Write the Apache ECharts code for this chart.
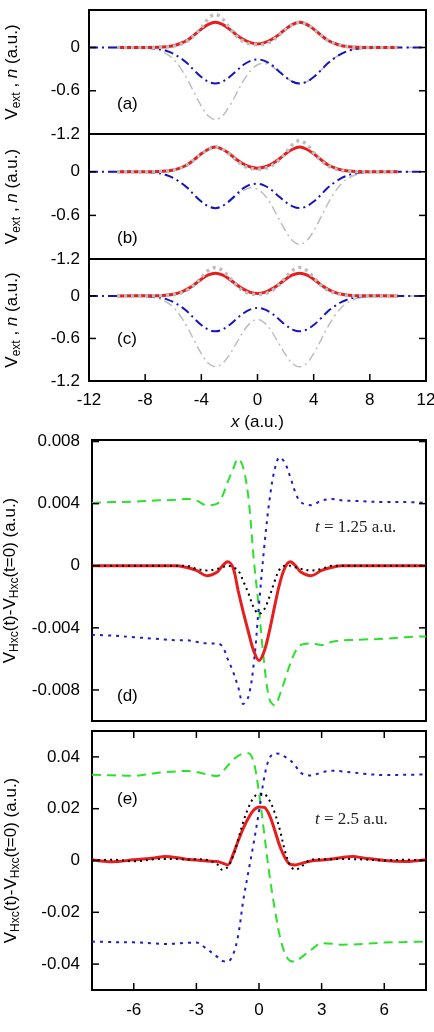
<!DOCTYPE html>
<html>
<head>
<meta charset="utf-8">
<script src="https://cdn.jsdelivr.net/npm/echarts@6/dist/echarts.min.js"></script>
<style>
html, body { margin: 0; padding: 0; background: #fff; }
#main { width: 434px; height: 1032px; }
</style>
</head>
<body>
<div id="main"></div>
<script>
// x grid of the three upper panels
var xTop = [-12, -10, -8, -7, -6.5, -6, -5.5, -5, -4.5, -4, -3.5, -3, -2.5, -2, -1.5, -1, -0.5, 0,
            0.5, 1, 1.5, 2, 2.5, 3, 3.5, 4, 4.5, 5, 5.5, 6, 6.5, 7, 8, 10, 12];

// panel (a)
var nA    = [null, 0, 0.0005, 0.003, 0.01, 0.025, 0.055, 0.1, 0.175, 0.255, 0.32, 0.35, 0.32, 0.255, 0.175, 0.11, 0.068, 0.05,
             0.068, 0.11, 0.175, 0.255, 0.32, 0.35, 0.32, 0.255, 0.175, 0.1, 0.055, 0.025, 0.01, 0.003, 0.0005, 0, null];
var nRefA = [null, 0, 0.0003, 0.002, 0.006, 0.018, 0.045, 0.09, 0.17, 0.275, 0.4, 0.46, 0.4, 0.275, 0.16, 0.085, 0.048, 0.038,
             0.048, 0.088, 0.165, 0.25, 0.32, 0.35, 0.32, 0.255, 0.175, 0.1, 0.055, 0.025, 0.01, 0.003, 0.0005, 0, null];
var vA    = [0, 0, -0.004, -0.02, -0.045, -0.085, -0.145, -0.22, -0.32, -0.41, -0.475, -0.5, -0.475, -0.41, -0.325, -0.24, -0.185, -0.165,
             -0.185, -0.24, -0.325, -0.41, -0.475, -0.5, -0.475, -0.41, -0.32, -0.22, -0.145, -0.085, -0.045, -0.02, -0.004, 0, 0];
var vExtA = [0, 0, -0.007, -0.04, -0.085, -0.16, -0.28, -0.44, -0.63, -0.815, -0.95, -1.0, -0.95, -0.815, -0.64, -0.46, -0.32, -0.24,
             -0.22, -0.26, -0.335, -0.41, -0.475, -0.5, -0.475, -0.41, -0.32, -0.22, -0.145, -0.085, -0.045, -0.02, -0.004, 0, 0];

// panel (b)
var nB    = [null, 0, 0.0005, 0.003, 0.01, 0.024, 0.053, 0.097, 0.17, 0.248, 0.31, 0.34, 0.31, 0.248, 0.17, 0.107, 0.066, 0.05,
             0.066, 0.107, 0.17, 0.248, 0.31, 0.34, 0.31, 0.248, 0.17, 0.097, 0.053, 0.024, 0.01, 0.003, 0.0005, 0, null];
var nRefB = [null, 0, 0.0005, 0.003, 0.01, 0.024, 0.053, 0.097, 0.17, 0.248, 0.31, 0.34, 0.31, 0.245, 0.16, 0.085, 0.046, 0.036,
             0.046, 0.082, 0.155, 0.26, 0.375, 0.43, 0.375, 0.26, 0.16, 0.085, 0.043, 0.017, 0.006, 0.002, 0.0003, 0, null];
var vB    = [0, 0, -0.004, -0.02, -0.045, -0.085, -0.145, -0.22, -0.32, -0.41, -0.475, -0.5, -0.47, -0.4, -0.31, -0.225, -0.175, -0.165,
             -0.19, -0.25, -0.335, -0.415, -0.475, -0.5, -0.475, -0.41, -0.32, -0.22, -0.145, -0.085, -0.045, -0.02, -0.004, 0, 0];
var vExtB = [0, 0, -0.004, -0.02, -0.045, -0.085, -0.145, -0.22, -0.32, -0.41, -0.475, -0.5, -0.475, -0.41, -0.335, -0.26, -0.22, -0.24,
             -0.32, -0.46, -0.64, -0.815, -0.95, -1.0, -0.95, -0.815, -0.63, -0.44, -0.28, -0.16, -0.085, -0.04, -0.007, 0, 0];

// panel (c)
var nC    = [null, 0, 0.0004, 0.003, 0.009, 0.023, 0.05, 0.095, 0.16, 0.235, 0.295, 0.32, 0.295, 0.235, 0.16, 0.095, 0.05, 0.035,
             0.05, 0.095, 0.16, 0.235, 0.295, 0.32, 0.295, 0.235, 0.16, 0.095, 0.05, 0.023, 0.009, 0.003, 0.0004, 0, null];
var nRefC = [null, 0, 0, 0.002, 0.005, 0.015, 0.04, 0.08, 0.155, 0.26, 0.36, 0.4, 0.36, 0.26, 0.15, 0.07, 0.03, 0.02,
             0.03, 0.07, 0.15, 0.26, 0.36, 0.4, 0.36, 0.26, 0.155, 0.08, 0.04, 0.015, 0.005, 0.002, 0, 0, null];
var vC    = [0, 0, -0.004, -0.02, -0.045, -0.085, -0.145, -0.22, -0.32, -0.41, -0.475, -0.5, -0.475, -0.41, -0.325, -0.245, -0.19, -0.17,
             -0.19, -0.245, -0.325, -0.41, -0.475, -0.5, -0.475, -0.41, -0.32, -0.22, -0.145, -0.085, -0.045, -0.02, -0.004, 0, 0];
var vExtC = [0, 0, -0.007, -0.04, -0.085, -0.16, -0.28, -0.44, -0.63, -0.815, -0.95, -1.0, -0.955, -0.83, -0.665, -0.5, -0.38, -0.33,
             -0.38, -0.5, -0.665, -0.83, -0.955, -1.0, -0.95, -0.815, -0.63, -0.44, -0.28, -0.16, -0.085, -0.04, -0.007, 0, 0];

// x grid of the two lower panels
var xLow = [-8, -7, -6, -5, -4.5, -4, -3.5, -3, -2.5, -2, -1.75, -1.5, -1.25, -1, -0.75, -0.5, -0.25, 0,
            0.25, 0.5, 0.75, 1, 1.25, 1.5, 1.75, 2, 2.5, 3, 3.5, 4, 4.5, 5, 6, 7, 8];

// panel (d), t = 1.25
var gD = [0.00405, 0.0041, 0.00413, 0.0042, 0.00422, 0.00425, 0.0043, 0.0042, 0.0039, 0.004, 0.0045, 0.0054, 0.0062, 0.0069, 0.0063, 0.0043, 0.0004, -0.0028,
          -0.0063, -0.0086, -0.009, -0.0083, -0.0073, -0.0063, -0.0055, -0.0051, -0.005, -0.0051, -0.0049, -0.0048, -0.00478, -0.00475, -0.0047, -0.0046, -0.00455];
var bD = [-0.00445, -0.0045, -0.0046, -0.0047, -0.00475, -0.0048, -0.0048, -0.0049, -0.005, -0.005, -0.0052, -0.006, -0.0068, -0.0078, -0.0089, -0.0084, -0.0063, -0.0025,
          0.0012, 0.0042, 0.0062, 0.007, 0.0066, 0.0057, 0.0047, 0.0041, 0.0039, 0.0042, 0.0043, 0.0042, 0.00418, 0.00415, 0.0041, 0.0041, 0.00405];
var rD = [0, 0, 0, 0, 0, 0, -0.0001, -0.0003, -0.00064, -0.0004, 0, 0.00025, -0.0001, -0.0016, -0.003, -0.0043, -0.0055, -0.0061,
          -0.0055, -0.0042, -0.0026, -0.0011, -0.0001, 0.00025, 0, -0.0004, -0.00064, -0.0003, -0.0001, 0, 0, 0, 0, 0, 0];
var kD = [0, 0, 0, 0, 0, 0, 0, -0.0002, -0.0003, -0.0002, -0.0001, 0, -0.0001, -0.0003, -0.001, -0.0018, -0.0027, -0.0031,
          -0.0028, -0.002, -0.001, -0.0002, 0, 0, -0.0001, -0.0002, -0.0003, -0.0002, 0, 0, 0, 0, 0, 0, 0];

// panel (e), t = 2.5
var gE = [0.0331, 0.0329, 0.0327, 0.0337, 0.0341, 0.0344, 0.0346, 0.0342, 0.0333, 0.0326, 0.0343, 0.0366, 0.0388, 0.0404, 0.0413, 0.0414, 0.0378, 0.0262,
          0.0104, -0.0055, -0.0185, -0.0293, -0.036, -0.0388, -0.039, -0.0376, -0.0345, -0.0319, -0.0321, -0.0325, -0.0324, -0.0322, -0.0317, -0.0315, -0.0313];
var bE = [-0.0313, -0.0315, -0.0316, -0.032, -0.0322, -0.0321, -0.0318, -0.0317, -0.0342, -0.0372, -0.0388, -0.039, -0.0365, -0.029, -0.0152, -0.004, 0.007, 0.019,
          0.032, 0.0395, 0.0413, 0.0412, 0.04, 0.0387, 0.0365, 0.0338, 0.0328, 0.034, 0.0347, 0.0344, 0.034, 0.0335, 0.033, 0.0331, 0.0332];
var rE = [0.0003, -0.0005, 0.0003, 0.001, 0.0015, 0.0012, 0.0005, 0.0002, -0.0002, -0.0004, -0.001, -0.0017, 0.0022, 0.0075, 0.0125, 0.0165, 0.0195, 0.0207,
          0.0205, 0.0175, 0.0118, 0.0055, 0.001, -0.0015, -0.0017, -0.0012, -0.0002, 0.0002, 0.0006, 0.0012, 0.0015, 0.001, 0, -0.0004, 0.0003];
var kE = [0, 0.0003, -0.0003, 0.0005, 0.0006, 0.0006, 0.0004, 0.0005, 0.0002, -0.0015, -0.0036, -0.0025, 0.0015, 0.008, 0.015, 0.0205, 0.0243, 0.0258,
          0.0256, 0.0232, 0.0185, 0.0118, 0.0035, -0.002, -0.0036, -0.0025, 0.0003, 0.0005, 0.0005, 0.0006, 0.0005, 0.0004, 0, 0.0003, 0];

// tick labels
var ticksXTop = [-12, -8, -4, 0, 4, 8, 12];
var ticksYTop = [-1.2, -0.6, 0];
var ticksXLow = [-6, -3, 0, 3, 6];
var ticksYD = [-0.008, -0.004, 0, 0.004, 0.008];
var ticksYE = [-0.04, -0.02, 0, 0.02, 0.04];

var FONT = 'Liberation Sans';

// [x, y] pairs, points without a value are left out
function pairs(xs, ys) {
    var out = [];
    for (var i = 0; i < xs.length; i++) {
        if (ys[i] !== null) out.push([xs[i], ys[i]]);
    }
    return out;
}

var chart = echarts.init(document.getElementById('main'));

var grids = [
    {left: 89, right: 8, top: 10, height: 124},
    {left: 89, right: 8, top: 134, height: 125},
    {left: 89, right: 8, top: 259, height: 122},
    {left: 92, right: 8, top: 440, height: 281},
    {left: 92, right: 8, top: 731, height: 259}
];
grids.forEach(function (g) {
    g.show = true;
    g.borderColor = '#000';
    g.borderWidth = 2;
    g.containLabel = false;
    g.outerBoundsMode = 'none';
});

var nameRich = {
    v: {fontSize: 17, fontFamily: FONT, lineHeight: 22, color: '#000'},
    i: {fontSize: 17, fontFamily: FONT, fontStyle: 'italic', lineHeight: 22, color: '#000'},
    t: {fontSize: 17, fontFamily: FONT, lineHeight: 22, color: '#000'},
    s: {fontSize: 12, fontFamily: FONT, lineHeight: 12, verticalAlign: 'bottom', color: '#000'}
};

function makeAxis(gi, pos, min, max, ticks, showLabels, margin, name, gap) {
    var ax = {
        type: 'value', gridIndex: gi, min: min, max: max, position: pos,
        axisLine: {show: false, onZero: false},
        axisTick: {show: false},
        axisLabel: {show: showLabels, color: '#000', fontSize: 17, fontFamily: FONT, margin: margin, customValues: ticks},
        splitLine: {show: false}
    };
    if (name) {
        ax.name = name;
        ax.nameLocation = 'middle';
        ax.nameGap = gap;
        ax.nameTextStyle = {rich: nameRich};
    }
    return ax;
}

var nameTop = '{v|V}{s|ext}{t| , }{i|n}{t| (a.u.)}';
var nameLow = '{v|V}{s|Hxc}{t|(t)-}{v|V}{s|Hxc}{t|(t=0) (a.u.)}';
var nameX = '{i|x}{t| (a.u.)}';

var xAxes = [
    makeAxis(0, 'bottom', -12, 12, ticksXTop, false, 11),
    makeAxis(1, 'bottom', -12, 12, ticksXTop, false, 11),
    makeAxis(2, 'bottom', -12, 12, ticksXTop, true, 11, nameX, 30),
    makeAxis(3, 'bottom', -8, 8, ticksXLow, false, 12),
    makeAxis(4, 'bottom', -8, 8, ticksXLow, true, 12, nameX, 38)
];

var yAxes = [
    makeAxis(0, 'left', -1.2, 0.52, ticksYTop, true, 9, nameTop, 66),
    makeAxis(1, 'left', -1.2, 0.52, ticksYTop, true, 9, nameTop, 66),
    makeAxis(2, 'left', -1.2, 0.52, ticksYTop, true, 9, nameTop, 66),
    makeAxis(3, 'left', -0.01, 0.0081, ticksYD, true, 12, nameLow, 70),
    makeAxis(4, 'left', -0.05, 0.05, ticksYE, true, 12, nameLow, 70)
];

function line(ax, xs, ys, color, width, type) {
    return {
        type: 'line', xAxisIndex: ax, yAxisIndex: ax,
        data: pairs(xs, ys),
        symbol: 'none', smooth: 0.35,
        lineStyle: {color: color, width: width, type: type}
    };
}

// inward tick marks on the frame; side 0 bottom, 1 top, 2 left, 3 right
function tickMarks(ax, xr, yr, xTicks, yTicks, sides) {
    var data = [];
    if (sides.indexOf(0) >= 0) xTicks.forEach(function (v) { data.push([v, yr[0], 0]); });
    if (sides.indexOf(1) >= 0) xTicks.forEach(function (v) { data.push([v, yr[1], 1]); });
    if (sides.indexOf(2) >= 0) yTicks.forEach(function (v) { data.push([xr[0], v, 2]); });
    if (sides.indexOf(3) >= 0) yTicks.forEach(function (v) { data.push([xr[1], v, 3]); });
    return {
        type: 'custom', xAxisIndex: ax, yAxisIndex: ax, clip: false, silent: true, z: 6,
        data: data,
        renderItem: function (params, api) {
            var p = api.coord([api.value(0), api.value(1)]);
            var side = api.value(2);
            var L = 7;
            var q = side === 0 ? [p[0], p[1] - L] : side === 1 ? [p[0], p[1] + L]
                  : side === 2 ? [p[0] + L, p[1]] : [p[0] - L, p[1]];
            return {
                type: 'line',
                shape: {x1: p[0], y1: p[1], x2: q[0], y2: q[1]},
                style: {stroke: '#000', lineWidth: 1.5}
            };
        }
    };
}

var RED = '#e81e1e', GRAY = '#bdbdbd', BLUE = '#1414c0', GREEN = '#2ee02e', BLUE2 = '#1c1cd0';

var series = [];
[[vExtA, vA, nA, nRefA], [vExtB, vB, nB, nRefB], [vExtC, vC, nC, nRefC]].forEach(function (s, k) {
    series.push(line(k, xTop, s[0], GRAY, 1.5, [9, 4, 2, 4]));
    series.push(line(k, xTop, s[1], BLUE, 2, [9, 4, 2, 4]));
    series.push(line(k, xTop, s[2], RED, 3, 'solid'));
    series.push(line(k, xTop, s[3], GRAY, 3.5, [3, 4]));
});
[[gD, bD, rD, kD], [gE, bE, rE, kE]].forEach(function (s, k) {
    var ax = 3 + k;
    series.push(line(ax, xLow, s[0], GREEN, 2, [9, 6]));
    series.push(line(ax, xLow, s[1], BLUE2, 2, [3, 5]));
    series.push(line(ax, xLow, s[2], RED, 3, 'solid'));
    series.push(line(ax, xLow, s[3], '#000', 2, [2, 4]));
});

series.push(tickMarks(0, [-12, 12], [-1.2, 0.52], ticksXTop, ticksYTop, [2, 3]));
series.push(tickMarks(1, [-12, 12], [-1.2, 0.52], ticksXTop, ticksYTop, [2, 3]));
series.push(tickMarks(2, [-12, 12], [-1.2, 0.52], ticksXTop, ticksYTop, [0, 2, 3]));
series.push(tickMarks(3, [-8, 8], [-0.01, 0.0081], ticksXLow, ticksYD, [2, 3]));
series.push(tickMarks(4, [-8, 8], [-0.05, 0.05], ticksXLow, ticksYE, [0, 1, 2, 3]));

function panelLabel(txt, x, y) {
    return {type: 'text', left: x, top: y,
        style: {text: txt, fill: '#000', font: '17px "Liberation Sans"'}};
}
function timeLabel(txt, x, y) {
    return {type: 'text', left: x, top: y,
        style: {
            text: '{i|t}{r| = ' + txt + ' a.u.}',
            rich: {
                i: {fontFamily: 'Liberation Serif', fontStyle: 'italic', fontSize: 17, fill: '#222'},
                r: {fontFamily: 'Liberation Serif', fontSize: 17, fill: '#222'}
            }
        }};
}

chart.setOption({
    animation: false,
    grid: grids,
    xAxis: xAxes,
    yAxis: yAxes,
    series: series,
    graphic: [
        panelLabel('(a)', 117, 96),
        panelLabel('(b)', 117, 230),
        panelLabel('(c)', 117, 331),
        panelLabel('(d)', 117, 688),
        panelLabel('(e)', 117, 791),
        timeLabel('1.25', 315, 519),
        timeLabel('2.5', 315, 811)
    ]
});
</script>
</body>
</html>
